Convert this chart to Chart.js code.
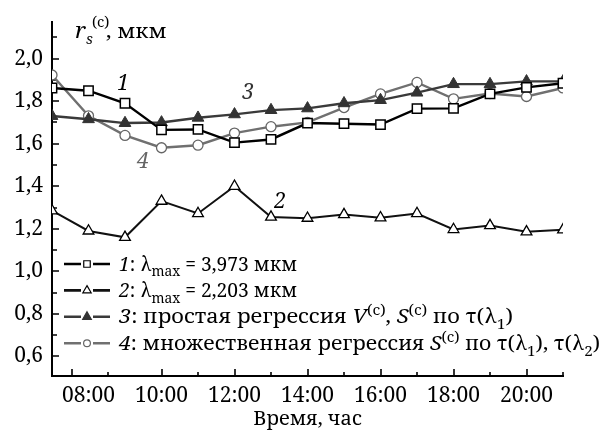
<!DOCTYPE html>
<html>
<head>
<meta charset="utf-8">
<script src="https://cdn.jsdelivr.net/npm/chart.js@4/dist/chart.umd.min.js"></script>
<style>
  html, body { margin: 0; padding: 0; background: #fff; }
  canvas { display: block; }
</style>
</head>
<body>
<canvas id="c" width="603" height="431"></canvas>
<script>
// Observation hours (local time)
const hours = [7, 8, 9, 10, 11, 12, 13, 14, 15, 16, 17, 18, 19, 20, 21];

// r_s^(c), мкм
const series1 = [1.862, 1.849, 1.790, 1.665, 1.667, 1.605, 1.620, 1.697, 1.694, 1.690, 1.765, 1.766, 1.834, 1.865, 1.884];
const series2 = [1.285, 1.190, 1.160, 1.330, 1.272, 1.400, 1.255, 1.250, 1.267, 1.252, 1.272, 1.197, 1.215, 1.186, 1.195];
const series3 = [1.730, 1.715, 1.697, 1.700, 1.722, 1.738, 1.758, 1.766, 1.790, 1.805, 1.840, 1.880, 1.880, 1.893, 1.893];
const series4 = [1.923, 1.731, 1.639, 1.581, 1.593, 1.650, 1.680, 1.700, 1.770, 1.834, 1.888, 1.811, 1.836, 1.822, 1.862];

// Axis ticks
const xLabelHours = [8, 10, 12, 14, 16, 18, 20];
const xMajorTickHours = [7.54, 10, 12, 14, 16, 18, 20];
const xMinorTickHours = [8.53, 11, 13, 15, 17, 19, 21];
const yLabelValues = [0.6, 0.8, 1.0, 1.2, 1.4, 1.6, 1.8, 2.0];
const yMinorValues = [0.7, 0.9, 1.1, 1.3, 1.5, 1.7, 1.9, 2.1];

// Curve numbers placed next to the lines (hour, value)
const curveTags = [
  { n: '1', x: 8.95, y: 1.880, color: '#000' },
  { n: '3', x: 12.37, y: 1.838, color: '#333' },
  { n: '4', x: 9.49, y: 1.512, color: '#666' },
  { n: '2', x: 13.25, y: 1.325, color: '#000' }
];

const SERIF = '"Noto Serif", "Liberation Serif", "Times New Roman", serif';

const toPoints = (vals) => hours.map((h, i) => ({ x: h, y: vals[i] }));

const styles = [
  { color: '#000', width: 2.4, point: 'rect', radius: 6.6, fill: '#fff', pbw: 1.5, pbc: '#000', legR: 4.6 },
  { color: '#111', width: 2.0, point: 'triangle', radius: 6.2, fill: '#fff', pbw: 1.3, pbc: '#000', legR: 4.8 },
  { color: '#3a3a3a', width: 2.4, point: 'triangle', radius: 6.8, fill: '#333', pbw: 1, pbc: '#333', legR: 5.0 },
  { color: '#707070', width: 2.4, point: 'circle', radius: 5.0, fill: '#fff', pbw: 1.3, pbc: '#666', legR: 3.4 }
];

const legendRows = [
  [{ t: '1', i: 1 }, { t: ': λ' }, { t: 'max', sub: 1 }, { t: ' = 3,973 мкм' }],
  [{ t: '2', i: 1 }, { t: ': λ' }, { t: 'max', sub: 1 }, { t: ' = 2,203 мкм' }],
  [{ t: '3', i: 1 }, { t: ': простая регрессия ' }, { t: 'V', i: 1 }, { t: '(c)', sup: 1 }, { t: ', ' },
   { t: 'S', i: 1 }, { t: '(c)', sup: 1 }, { t: ' по τ(λ' }, { t: '1', sub: 1 }, { t: ')' }],
  [{ t: '4', i: 1 }, { t: ': множественная регрессия ' }, { t: 'S', i: 1 }, { t: '(c)', sup: 1 },
   { t: ' по τ(λ' }, { t: '1', sub: 1 }, { t: '), τ(λ' }, { t: '2', sub: 1 }, { t: ')' }]
];
// set width of each legend line (text is justified to it)
const legendWidths = [178, 178, 394, 481];

function partFont(p, base) {
  const small = Math.round(base * 0.7);
  const size = (p.sub || p.sup) ? small : base;
  return (p.i ? 'italic ' : '') + size + 'px ' + SERIF;
}

function richMetrics(ctx, parts, base) {
  let w = 0, spaces = 0;
  parts.forEach(p => {
    ctx.font = partFont(p, base);
    w += ctx.measureText(p.t).width;
    if (!p.sub && !p.sup) spaces += (p.t.match(/ /g) || []).length;
  });
  return { w, spaces };
}

function drawRich(ctx, parts, x, y, base, color, sx, extraSpace) {
  ctx.save();
  ctx.translate(x, y);
  ctx.scale(sx, 1);
  ctx.fillStyle = color;
  ctx.textBaseline = 'alphabetic';
  ctx.textAlign = 'left';
  let cx = 0;
  parts.forEach(p => {
    ctx.font = partFont(p, base);
    const dy = p.sub ? base * 0.3 : (p.sup ? -base * 0.42 : 0);
    const pieces = p.t.split(' ');
    pieces.forEach((piece, k) => {
      if (k > 0) cx += ctx.measureText(' ').width + (extraSpace || 0);
      if (piece) { ctx.fillText(piece, cx, dy); cx += ctx.measureText(piece).width; }
    });
  });
  ctx.restore();
}

const decorPlugin = {
  id: 'decor',
  beforeDatasetsDraw(chart) {
    const { ctx } = chart;
    const xs = chart.scales.x, ys = chart.scales.y;
    const bottom = chart.chartArea.bottom, left = chart.chartArea.left;
    ctx.save();
    ctx.strokeStyle = '#000';
    ctx.lineWidth = 1.6;
    ctx.beginPath();
    xMajorTickHours.forEach(h => { const px = Math.round(xs.getPixelForValue(h)); ctx.moveTo(px, bottom); ctx.lineTo(px, bottom - 7); });
    xMinorTickHours.forEach(h => { const px = Math.round(xs.getPixelForValue(h)); ctx.moveTo(px, bottom); ctx.lineTo(px, bottom - 4); });
    yLabelValues.forEach(v => { const py = Math.round(ys.getPixelForValue(v)); ctx.moveTo(left, py); ctx.lineTo(left + 7, py); });
    yMinorValues.forEach(v => { const py = Math.round(ys.getPixelForValue(v)); ctx.moveTo(left, py); ctx.lineTo(left + 5, py); });
    ctx.stroke();
    ctx.restore();
  },
  afterDraw(chart) {
    const { ctx } = chart;
    const xs = chart.scales.x, ys = chart.scales.y;

    // axis title inside the plot: r_s^(c), мкм
    drawRich(ctx, [{ t: 'r', i: 1 }], 75, 38, 22, '#000', 1.05);
    drawRich(ctx, [{ t: 's', i: 1, sub: 1 }], 86, 38, 20, '#000', 1.05);
    drawRich(ctx, [{ t: '(c)', sup: 1 }], 92, 35, 20, '#000', 1.05);
    drawRich(ctx, [{ t: ', мкм' }], 106, 38, 20, '#000', 1.1);

    // curve numbers
    ctx.save();
    ctx.font = 'italic 21px ' + SERIF;
    ctx.textAlign = 'center';
    ctx.textBaseline = 'middle';
    curveTags.forEach(t => {
      ctx.fillStyle = t.color;
      ctx.fillText(t.n, xs.getPixelForValue(t.x), ys.getPixelForValue(t.y));
    });
    ctx.restore();

    // legend
    const base = 19.5;
    legendRows.forEach((row, i) => {
      const st = styles[i];
      const cy = 264 + i * 26.4;
      ctx.save();
      ctx.strokeStyle = st.color;
      ctx.lineWidth = 2.6;
      ctx.beginPath();
      ctx.moveTo(64, cy); ctx.lineTo(81, cy);
      ctx.moveTo(93, cy); ctx.lineTo(110, cy);
      ctx.stroke();
      ctx.fillStyle = st.fill;
      ctx.strokeStyle = st.pbc;
      ctx.lineWidth = 1.2;
      Chart.helpers.drawPoint(ctx, { pointStyle: st.point, radius: st.legR, rotation: 0, borderWidth: 1.2 }, 87, cy);
      ctx.restore();
      const m = richMetrics(ctx, row, base);
      const sx = Math.min(1.12, legendWidths[i] / m.w);
      const extra = m.spaces ? Math.max(0, (legendWidths[i] / sx - m.w) / m.spaces) : 0;
      drawRich(ctx, row, 119, cy + 6.5, base, '#000', sx, extra);
    });
  }
};

const datasets = [series1, series2, series3, series4].map((vals, i) => {
  const st = styles[i];
  return {
    data: toPoints(vals),
    borderColor: st.color,
    borderWidth: st.width,
    pointStyle: st.point,
    pointRadius: st.radius,
    pointHoverRadius: st.radius,
    pointBackgroundColor: st.fill,
    pointBorderColor: st.pbc,
    pointBorderWidth: st.pbw,
    tension: 0,
    fill: false
  };
});

new Chart(document.getElementById('c'), {
  type: 'line',
  data: { datasets },
  options: {
    responsive: false,
    animation: false,
    devicePixelRatio: 1,
    layout: { padding: { top: 13, right: 40, left: 0, bottom: 0 } },
    plugins: { legend: { display: false }, tooltip: { enabled: false } },
    scales: {
      x: {
        type: 'linear',
        min: 7,
        max: 21,
        grid: { display: false, drawTicks: false },
        border: { display: true, color: '#000', width: 2 },
        afterBuildTicks: (s) => { s.ticks = xLabelHours.map(v => ({ value: v })); },
        afterFit: (s) => { s.height = 55; },
        ticks: {
          autoSkip: false,
          maxRotation: 0,
          padding: 7,
          color: '#000',
          font: { family: SERIF, size: 21 },
          callback: (v) => String(v).padStart(2, '0') + ':00'
        },
        title: {
          display: true,
          text: 'Время, час',
          color: '#000',
          font: { family: SERIF, size: 20 },
          padding: { top: 0, bottom: 0 }
        }
      },
      y: {
        min: 0.508,
        max: 2.174,
        grid: { display: false, drawTicks: false },
        border: { display: true, color: '#000', width: 2 },
        afterBuildTicks: (s) => { s.ticks = yLabelValues.map(v => ({ value: v })); },
        afterFit: (s) => { s.width = 52; },
        ticks: {
          padding: 9,
          color: '#000',
          font: { family: SERIF, size: 21 },
          callback: (v) => v.toFixed(1).replace('.', ',')
        }
      }
    }
  },
  plugins: [decorPlugin]
});
</script>
</body>
</html>
